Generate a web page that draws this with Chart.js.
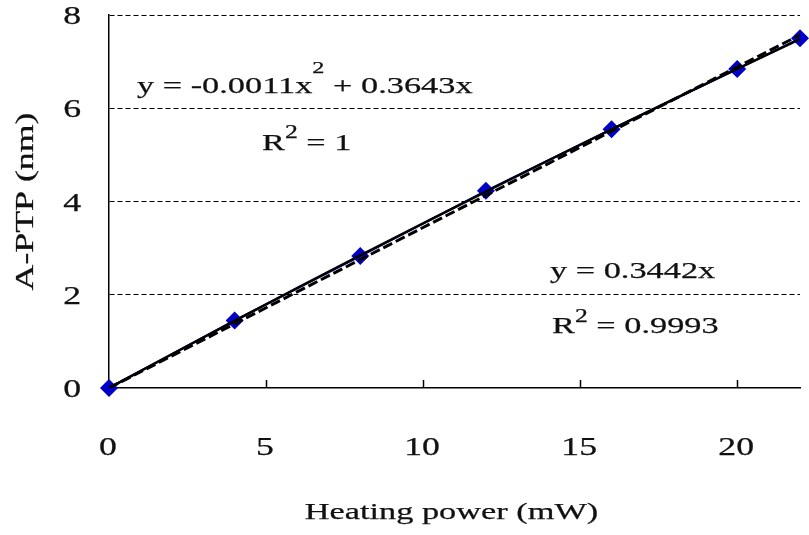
<!DOCTYPE html>
<html>
<head>
<meta charset="utf-8">
<script src="https://cdn.jsdelivr.net/npm/chart.js@4/dist/chart.umd.min.js"></script>
<style>
  html, body { margin: 0; padding: 0; background: #fff; }
  #wrap { width: 809px; height: 535px; }
</style>
</head>
<body>
<div id="wrap"><canvas id="ptpChart" width="809" height="535"></canvas></div>
<script>
// measured A-PTP vs heating power
const powerMW = [0, 4, 8, 12, 16, 20, 22];
const ptpNm = [0, 1.45, 2.83, 4.23, 5.55, 6.84, 7.5];

// trendline coefficients (as printed on the plot)
const quadA = -0.0011;
const quadB = 0.3643;
const linSlope = 0.3442;
const fitX = [0, 2, 4, 6, 8, 10, 12, 14, 16, 18, 20, 22];

const xTicks = [0, 5, 10, 15, 20];
const yTicks = [0, 2, 4, 6, 8];

const FONT = '"Liberation Serif", "Times New Roman", serif';
const SX = 1.43; // the serif text here is set wide

const quadFit = fitX.map(x => ({x: x, y: quadA * x * x + quadB * x}));
const linFit = fitX.map(x => ({x: x, y: linSlope * x}));
const measured = powerMW.map((x, i) => ({x: x, y: ptpNm[i]}));

function wideText(ctx, str, x, y, size, align) {
  ctx.save();
  ctx.font = size + 'px ' + FONT;
  ctx.textAlign = align || 'left';
  ctx.textBaseline = 'alphabetic';
  ctx.translate(x, y);
  ctx.scale(SX, 1);
  ctx.lineWidth = 0.25;
  ctx.strokeStyle = ctx.fillStyle;
  ctx.fillText(str, 0, 0);
  ctx.strokeText(str, 0, 0);
  ctx.restore();
}

// text runs with a superscript part, laid out left to right
function richText(ctx, parts, x, y) {
  let cx = x;
  parts.forEach(p => {
    ctx.save();
    ctx.font = p.s + 'px ' + FONT;
    const w = ctx.measureText(p.t).width * SX;
    ctx.restore();
    wideText(ctx, p.t, cx, y + (p.dy || 0), p.s, 'left');
    cx += w;
  });
}

const axisText = {
  id: 'axisText',
  afterDraw(chart) {
    const ctx = chart.ctx;
    const xs = chart.scales.x;
    const ys = chart.scales.y;
    const area = chart.chartArea;
    ctx.save();
    ctx.fillStyle = '#111';

    // inward tick marks on the x axis
    ctx.strokeStyle = '#000';
    ctx.lineWidth = 1.5;
    xTicks.forEach(v => {
      if (v === 0) return;
      const px = Math.round(xs.getPixelForValue(v)) + 0.5;
      ctx.beginPath();
      ctx.moveTo(px, area.bottom);
      ctx.lineTo(px, area.bottom - 8);
      ctx.stroke();
    });

    // tick labels
    xTicks.forEach(v => {
      wideText(ctx, String(v), xs.getPixelForValue(v) - 1, area.bottom + 67, 25, 'center');
    });
    yTicks.forEach(v => {
      wideText(ctx, String(v), 81, ys.getPixelForValue(v) + 9, 25, 'right');
    });

    // axis titles
    wideText(ctx, 'Heating power (mW)', (area.left + area.right) / 2 - 3, 519, 24, 'center');
    ctx.save();
    ctx.translate(33, (area.top + area.bottom) / 2);
    ctx.rotate(-Math.PI / 2);
    wideText(ctx, 'A-PTP (nm)', 0, 0, 25, 'center');
    ctx.restore();

    // trendline equations
    richText(ctx, [
      {t: 'y = -0.0011x', s: 24},
      {t: '2', s: 17, dy: -20},
      {t: ' + 0.3643x', s: 24}
    ], 137, 93);
    richText(ctx, [
      {t: 'R', s: 24},
      {t: '2', s: 18, dy: -12},
      {t: ' = 1', s: 24}
    ], 262, 150);
    richText(ctx, [{t: 'y = 0.3442x', s: 24}], 550, 278);
    richText(ctx, [
      {t: 'R', s: 24},
      {t: '2', s: 18, dy: -11},
      {t: ' = 0.9993', s: 24}
    ], 552, 333);
    ctx.restore();
  }
};

new Chart(document.getElementById('ptpChart'), {
  type: 'scatter',
  data: {
    datasets: [
      {
        label: 'poly fit',
        data: quadFit,
        showLine: true,
        borderColor: '#000',
        borderWidth: 2.5,
        pointRadius: 0,
        order: 0
      },
      {
        label: 'linear fit',
        data: linFit,
        showLine: true,
        borderColor: '#000',
        borderWidth: 3,
        borderDash: [10, 4],
        pointRadius: 0,
        order: 1
      },
      {
        label: 'A-PTP',
        data: measured,
        showLine: true,
        clip: false,
        borderColor: '#0000c8',
        borderWidth: 2,
        backgroundColor: '#0000c8',
        pointStyle: 'rectRot',
        pointRadius: 9,
        pointBorderWidth: 0,
        order: 2
      }
    ]
  },
  options: {
    responsive: false,
    animation: false,
    layout: { padding: { top: 15, right: 9, left: 0, bottom: 0 } },
    plugins: {
      legend: { display: false },
      tooltip: { enabled: false }
    },
    scales: {
      x: {
        type: 'linear',
        min: 0,
        max: 22,
        afterBuildTicks: s => { s.ticks = xTicks.map(v => ({value: v})); },
        afterFit: s => { s.height = 147; },
        ticks: { display: false },
        grid: { drawOnChartArea: false, drawTicks: false },
        border: { color: '#000', width: 1.5 }
      },
      y: {
        type: 'linear',
        min: 0,
        max: 8,
        afterBuildTicks: s => { s.ticks = yTicks.map(v => ({value: v})); },
        afterFit: s => { s.width = 109; },
        ticks: { display: false },
        grid: {
          drawTicks: false,
          color: '#000',
          lineWidth: c => (c.tick && c.tick.value === 0 ? 0 : 1)
        },
        border: { color: '#000', width: 1.5, dash: [5, 3] }
      }
    }
  },
  plugins: [axisText]
});
</script>
</body>
</html>
